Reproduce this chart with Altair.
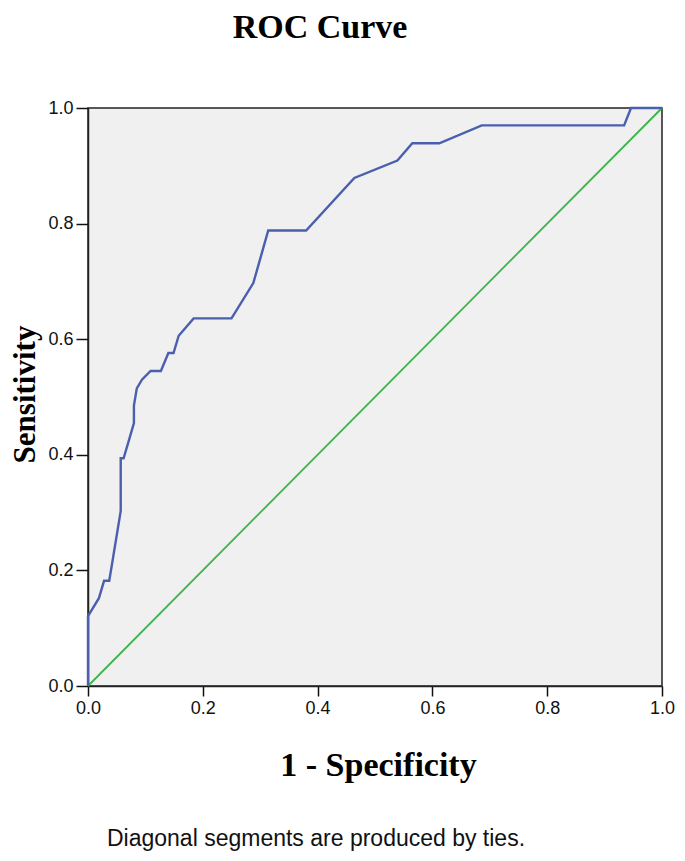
import altair as alt
import pandas as pd

# ROC curve points
fpr = [0.0, 0.0, 0.019, 0.028, 0.037, 0.042, 0.057, 0.057, 0.062, 0.071, 0.080, 0.080,
       0.085, 0.094, 0.109, 0.127, 0.140, 0.149, 0.158, 0.184, 0.250, 0.288, 0.314,
       0.380, 0.464, 0.539, 0.565, 0.612, 0.686, 0.934, 0.946, 1.0]
tpr = [0.0, 0.121, 0.152, 0.182, 0.182, 0.212, 0.303, 0.394, 0.394, 0.424, 0.455, 0.485,
       0.515, 0.530, 0.545, 0.545, 0.576, 0.576, 0.606, 0.636, 0.636, 0.697, 0.788,
       0.788, 0.879, 0.909, 0.939, 0.939, 0.970, 0.970, 1.0, 1.0]

ref_x = [0.0, 1.0]
ref_y = [0.0, 1.0]

tick_values = [0.0, 0.2, 0.4, 0.6, 0.8, 1.0]

title_text = "ROC Curve"
x_title = "1 - Specificity"
y_title = "Sensitivity"
footnote = "Diagonal segments are produced by ties."

roc = pd.DataFrame({"fpr": fpr, "tpr": tpr, "order": list(range(len(fpr)))})
diag = pd.DataFrame({"fpr": ref_x, "tpr": ref_y, "order": [0, 1]})

W, H = 574, 578


def make_x_axis():
    return alt.Axis(
        values=tick_values, format=".1f", grid=False, labelFlush=False,
        labelFont="Liberation Sans", labelFontSize=18, labelColor="#111111",
        labelPadding=3, tickSize=10, tickColor="#111111", tickWidth=1.5,
        domainColor="#222222", domainWidth=1.5,
        title=x_title, titleFont="Liberation Serif", titleFontWeight="bold",
        titleFontSize=34, titleColor="#000000", titleX=W / 2 + 3, titleY=89,
        titleBaseline="alphabetic", titleAlign="center",
    )


def make_y_axis():
    return alt.Axis(
        values=tick_values, format=".1f", grid=False, labelFlush=False,
        labelFont="Liberation Sans", labelFontSize=18, labelColor="#111111",
        labelPadding=3, tickSize=12, tickColor="#111111", tickWidth=1.5,
        domainColor="#222222", domainWidth=1.5,
        title=y_title, titleFont="Liberation Serif", titleFontWeight="bold",
        titleFontSize=31, titleColor="#000000", titleX=-54, titleY=H / 2 - 3,
        titleBaseline="alphabetic", titleAlign="center", titleAngle=-90,
    )


xs = alt.Scale(domain=[0, 1], nice=False)
ys = alt.Scale(domain=[0, 1], nice=False)

diag_line = alt.Chart(diag).mark_line(color="#3cb44b", strokeWidth=1.8).encode(
    x=alt.X("fpr:Q", scale=xs, axis=make_x_axis()),
    y=alt.Y("tpr:Q", scale=ys, axis=make_y_axis()),
    order="order:Q",
)

roc_line = alt.Chart(roc).mark_line(color="#4a5fae", strokeWidth=2.4).encode(
    x=alt.X("fpr:Q", scale=xs, axis=make_x_axis()),
    y=alt.Y("tpr:Q", scale=ys, axis=make_y_axis()),
    order="order:Q",
)

title_mark = alt.Chart(pd.DataFrame({"t": [title_text]})).mark_text(
    font="Liberation Serif", fontWeight="bold", fontSize=34, color="#000000",
    align="center", baseline="alphabetic",
).encode(text="t:N", x=alt.value(232), y=alt.value(-70))

foot_mark = alt.Chart(pd.DataFrame({"t": [footnote]})).mark_text(
    font="Liberation Sans", fontSize=23, color="#111111",
    align="center", baseline="alphabetic",
).encode(text="t:N", x=alt.value(228), y=alt.value(738))

chart = alt.layer(diag_line, roc_line, title_mark, foot_mark).properties(
    width=W, height=H,
    background="white",
    autosize=alt.AutoSizeParams(type="none"),
    padding={"left": 80, "top": 100, "right": 15, "bottom": 166},
).configure_view(
    fill="#f0f0f0", stroke="#222222", strokeWidth=1.5,
)

chart.save("out.html", embed_options={"renderer": "svg", "actions": False})
